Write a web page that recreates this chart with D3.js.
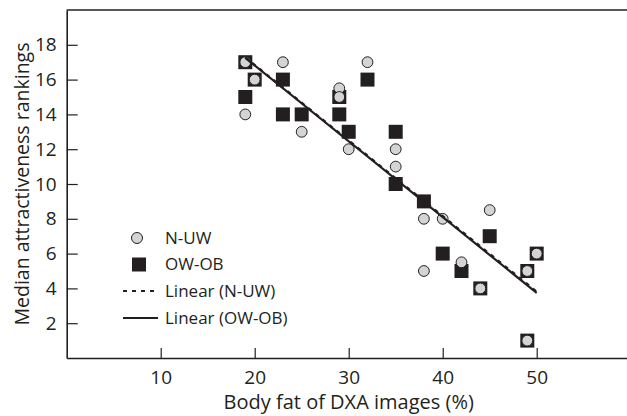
<!DOCTYPE html>
<html>
<head>
<meta charset="utf-8">
<script src="https://cdn.jsdelivr.net/npm/d3@7"></script>
<style>
  body { margin: 0; background: #fff; }
  text { font-family: "Open Sans", sans-serif; fill: #231f20; }
</style>
</head>
<body>
<div class="chart"></div>
<script>
// N-UW (circles)
const nuwX = [19, 20, 19, 23, 25, 29, 29, 30, 32, 35, 35, 38, 40, 38, 42, 45, 44, 49, 50, 49];
const nuwY = [17, 16, 14, 17, 13, 15.5, 15, 12, 17, 12, 11, 8, 8, 5, 5.5, 8.5, 4, 5, 6, 1];
// OW-OB (squares)
const owobX = [19, 20, 19, 23, 23, 25, 29, 29, 30, 32, 35, 35, 38, 40, 42, 45, 44, 49, 50, 49];
const owobY = [17, 16, 15, 16, 14, 14, 15, 14, 13, 16, 13, 10, 9, 6, 5, 7, 4, 5, 6, 1];

const xTicks = [10, 20, 30, 40, 50];
const yTicks = [2, 4, 6, 8, 10, 12, 14, 16, 18];
const legendLabels = ["N-UW", "OW-OB", "Linear (N-UW)", "Linear (OW-OB)"];

const ink = "#231f20";
let outWidth = 627, outHeight = 416;
let margin = {top: 10, left: 66.7, bottom: 58};

const svg = d3.select('.chart').append('svg')
	.attr("width", outWidth)
	.attr("height", outHeight);

const x = d3.scaleLinear().domain([0, 60]).range([margin.left, margin.left + 564]);
const y = d3.scaleLinear().domain([0, 20]).range([outHeight - margin.bottom, margin.top]);

const nuw = nuwX.map((v, i) => ({x: v, y: nuwY[i]}));
const owob = owobX.map((v, i) => ({x: v, y: owobY[i]}));

// least squares fit
function fit(data) {
	let mx = d3.mean(data, d => d.x), my = d3.mean(data, d => d.y);
	let sxy = d3.sum(data, d => (d.x - mx) * (d.y - my));
	let sxx = d3.sum(data, d => (d.x - mx) * (d.x - mx));
	let b = sxy / sxx, a = my - b * mx;
	let x0 = d3.min(data, d => d.x), x1 = d3.max(data, d => d.x);
	return [{x: x0, y: a + b * x0}, {x: x1, y: a + b * x1}];
}

// axes
const xAxis = d3.axisBottom(x).tickValues(xTicks).tickSizeInner(-10).tickSizeOuter(0);
const yAxis = d3.axisLeft(y).tickValues(yTicks).tickSizeInner(-11).tickSizeOuter(0).tickPadding(10);

const gx = svg.append("g")
	.attr("transform", `translate(0, ${y(0)})`)
	.call(xAxis);
const gy = svg.append("g")
	.attr("transform", `translate(${margin.left}, 0)`)
	.call(yAxis);
[gx, gy].forEach(g => {
	g.select(".domain").attr("stroke", ink).attr("stroke-width", 1.6);
	g.selectAll(".tick line").attr("stroke", ink).attr("stroke-width", 1.2);
	g.selectAll(".tick text").attr("font-size", 19).attr("font-family", "Open Sans").attr("fill", ink);
});
gx.selectAll(".tick text").attr("y", 26).attr("dy", 0);

// top border
svg.append("line")
	.attr("x1", margin.left).attr("x2", outWidth)
	.attr("y1", y(20)).attr("y2", y(20))
	.attr("stroke", ink).attr("stroke-width", 1.6);

// titles
svg.append("text")
	.attr("x", x(30))
	.attr("y", 409)
	.attr("text-anchor", "middle")
	.attr("font-size", 20)
	.text("Body fat of DXA images (%)");
svg.append("text")
	.attr("transform", `translate(29, ${y(10)}) rotate(-90)`)
	.attr("text-anchor", "middle")
	.attr("font-size", 19.5)
	.text("Median attractiveness rankings");

// points
const sq = 14;
svg.append("g").selectAll("rect")
	.data(owob)
	.enter()
	.append("rect")
	.attr("x", d => x(d.x) - sq / 2)
	.attr("y", d => y(d.y) - sq / 2)
	.attr("width", sq)
	.attr("height", sq)
	.attr("fill", ink);
svg.append("g").selectAll("circle")
	.data(nuw)
	.enter()
	.append("circle")
	.attr("cx", d => x(d.x))
	.attr("cy", d => y(d.y))
	.attr("r", 5.4)
	.attr("fill", "#d4d4d4")
	.attr("stroke", ink)
	.attr("stroke-width", 1);

// trend lines
const line = d3.line().x(d => x(d.x)).y(d => y(d.y));
svg.append("path")
	.attr("d", line(fit(nuw)))
	.attr("fill", "none")
	.attr("stroke", ink)
	.attr("stroke-width", 2.2)
	.attr("stroke-dasharray", "4,5");
svg.append("path")
	.attr("d", line(fit(owob)))
	.attr("fill", "none")
	.attr("stroke", ink)
	.attr("stroke-width", 2.2);

// legend
const lg = svg.append("g");
const rowY = [238, 264.5, 291, 318];
lg.append("circle").attr("cx", 137).attr("cy", rowY[0]).attr("r", 5.5)
	.attr("fill", "#d4d4d4").attr("stroke", ink).attr("stroke-width", 1);
lg.append("rect").attr("x", 139 - 7).attr("y", rowY[1] - 7).attr("width", 14).attr("height", 14)
	.attr("fill", ink);
lg.append("line").attr("x1", 123).attr("x2", 158).attr("y1", rowY[2]).attr("y2", rowY[2])
	.attr("stroke", ink).attr("stroke-width", 2).attr("stroke-dasharray", "4,5");
lg.append("line").attr("x1", 123).attr("x2", 158).attr("y1", rowY[3]).attr("y2", rowY[3])
	.attr("stroke", ink).attr("stroke-width", 2.2);
lg.selectAll("text.lab")
	.data(legendLabels)
	.enter()
	.append("text")
	.attr("class", "lab")
	.attr("x", 165)
	.attr("y", (_, i) => rowY[i])
	.attr("dy", "0.35em")
	.attr("font-size", 17)
	.text(d => d);
</script>
</body>
</html>
